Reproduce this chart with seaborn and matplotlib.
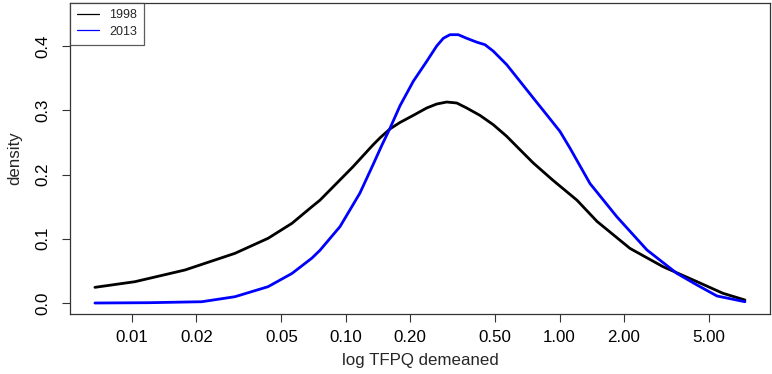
import numpy as np
import pandas as pd
import matplotlib
matplotlib.use("Agg")
import matplotlib.pyplot as plt
import seaborn as sns

# ---- data ----
x_1998 = [0.00671, 0.01033, 0.0177, 0.0303, 0.0433, 0.0560, 0.0695, 0.0757, 0.108,
          0.134, 0.1445, 0.1610, 0.1793, 0.2068, 0.2389, 0.2662, 0.2964, 0.3302,
          0.3677, 0.4243, 0.4896, 0.5656, 0.6528, 0.7534, 0.931, 1.206, 1.496,
          2.134, 3.047, 4.393, 5.81, 7.36]
d_1998 = [0.0244, 0.0332, 0.0514, 0.0773, 0.1007, 0.124, 0.150, 0.160, 0.212,
          0.246, 0.257, 0.271, 0.281, 0.292, 0.3035, 0.3097, 0.3128, 0.3113,
          0.3035, 0.292, 0.2775, 0.2595, 0.2386, 0.2179, 0.191, 0.160, 0.127,
          0.085, 0.0565, 0.0332, 0.0151, 0.0047]

x_2013 = [0.00671, 0.0121, 0.0212, 0.0303, 0.0433, 0.0560, 0.0695, 0.0757, 0.0940,
          0.1164, 0.134, 0.1472, 0.1610, 0.1793, 0.2068, 0.2389, 0.2662, 0.2858,
          0.3072, 0.3358, 0.3677, 0.4095, 0.4478, 0.4896, 0.5656, 0.6528, 0.7534,
          0.8704, 1.0044, 1.1186, 1.387, 1.855, 2.563, 3.54, 4.393, 5.45, 7.36]
d_2013 = [0.0, 0.0005, 0.002, 0.0098, 0.0254, 0.046, 0.070, 0.082, 0.119,
          0.171, 0.215, 0.245, 0.272, 0.307, 0.345, 0.376, 0.400, 0.412,
          0.4176, 0.4176, 0.412, 0.406, 0.402, 0.392, 0.371, 0.345, 0.319,
          0.293, 0.267, 0.241, 0.186, 0.134, 0.0825, 0.046, 0.028, 0.0109, 0.002]

years = ["1998", "2013"]
colors = {"1998": "black", "2013": "#0000FF"}
xticks = [0.01, 0.02, 0.05, 0.10, 0.20, 0.50, 1.00, 2.00, 5.00]
xticklabels = ["0.01", "0.02", "0.05", "0.10", "0.20", "0.50", "1.00", "2.00", "5.00"]
yticks = [0.0, 0.1, 0.2, 0.3, 0.4]
yticklabels = ["0.0", "0.1", "0.2", "0.3", "0.4"]

df = pd.concat([
    pd.DataFrame({"x": x_1998, "density": d_1998, "year": "1998"}),
    pd.DataFrame({"x": x_2013, "density": d_2013, "year": "2013"}),
], ignore_index=True)

sns.set_style("ticks")
plt.rcParams["font.family"] = ["Liberation Sans", "DejaVu Sans"]

fig = plt.figure(figsize=(7.72, 3.74), dpi=100)
ax = fig.add_axes([70 / 772, 1 - 314 / 374, 700 / 772, (314 - 2.5) / 374])

sns.lineplot(data=df, x="x", y="density", hue="year", hue_order=years,
             palette=colors, sort=True, linewidth=2.0, ax=ax, estimator=None)
for ln in ax.get_lines():
    ln.set_solid_joinstyle("round")
    ln.set_solid_capstyle("round")

ax.set_xscale("log")
ax.set_xlim(0.00513, 9.64)
ax.set_ylim(-0.0171, 0.4677)
ax.set_xticks(xticks)
ax.set_xticklabels(xticklabels)
ax.minorticks_off()
ax.set_yticks(yticks)
ax.set_yticklabels(yticklabels, rotation=90, va="center")

ax.tick_params(axis="both", direction="out", length=5.8, width=0.8, color="#333333",
               labelsize=12.2, colors="black")
ax.tick_params(axis="x", pad=5.5)
ax.tick_params(axis="y", pad=8)
for s in ax.spines.values():
    s.set_visible(True)
    s.set_color("#333333")
    s.set_linewidth(0.9)

ax.set_xlabel("log TFPQ demeaned", fontsize=12.2, labelpad=6)
ax.set_ylabel("density", fontsize=12.2, labelpad=10)

leg = ax.legend(loc="upper left", bbox_to_anchor=(0, 1), borderaxespad=0,
                frameon=True, fancybox=False, edgecolor="#333333",
                fontsize=9, handlelength=1.8, handletextpad=0.8,
                borderpad=0.55, labelspacing=0.35, title=None)
leg.get_frame().set_linewidth(0.9)
for line in leg.get_lines():
    line.set_linewidth(0.9)

fig.savefig("out.png", dpi=100)
